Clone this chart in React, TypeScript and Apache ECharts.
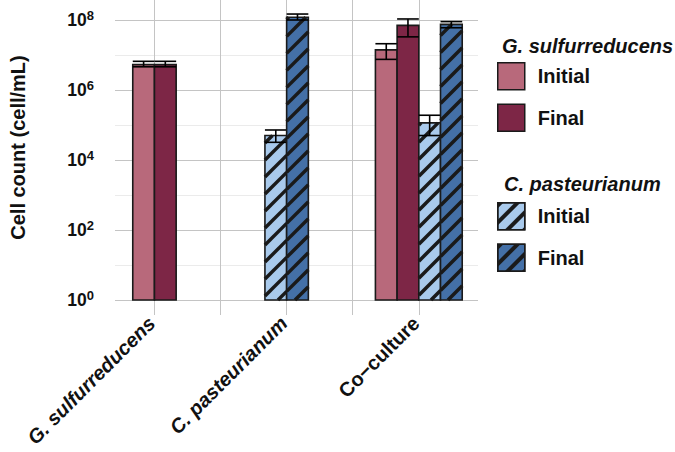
import React, { useEffect, useRef } from 'react';
import * as echarts from 'echarts';

const categories = ['G. sulfurreducens', 'C. pasteurianum', 'Co\u2212culture'];
const italicCategory = [true, true, false];

const seriesNames = [
  'G. sulfurreducens Initial',
  'G. sulfurreducens Final',
  'C. pasteurianum Initial',
  'C. pasteurianum Final',
];
const legendLabels = ['Initial', 'Final', 'Initial', 'Final'];
const legendTitles = ['G. sulfurreducens', 'C. pasteurianum'];

// values per category (null = no bar)
const gInitial = [5.3e6, null, 1.4e7];
const gInitialLow = [4.6e6, null, 7.5e6];
const gInitialHigh = [6.6e6, null, 2.1e7];
const gFinal = [5.3e6, null, 7.0e7];
const gFinalLow = [4.6e6, null, 3.3e7];
const gFinalHigh = [6.6e6, null, 1.07e8];
const cInitial = [null, 5.0e4, 1.15e5];
const cInitialLow = [null, 3.2e4, 5.0e4];
const cInitialHigh = [null, 7.2e4, 1.9e5];
const cFinal = [null, 1.2e8, 7.5e7];
const cFinalLow = [null, 1.0e8, 6.0e7];
const cFinalHigh = [null, 1.48e8, 9.0e7];

const yLabelExponents = [0, 2, 4, 6, 8];

const seriesValues = [gInitial, gFinal, cInitial, cFinal];
const seriesLows = [gInitialLow, gFinalLow, cInitialLow, cFinalLow];
const seriesHighs = [gInitialHigh, gFinalHigh, cInitialHigh, cFinalHigh];

const seriesColors = ['#b8697b', '#7d2646', '#a9caec', '#4470a7'];
const hatched = [false, false, true, true];

const FONT = "'Liberation Sans', Arial, Helvetica, sans-serif";
const TEXT = '#111111';
const INK = '#1a1a1a';
const GRID_MAJOR = '#c4c4c4';
const GRID_MINOR = '#ebebeb';
const BAR_FRAC = 22 / 134;
const HATCH_STEP = 17;

const decal = {
  symbol: 'rect',
  symbolSize: 1,
  dashArrayX: [1, 0],
  dashArrayY: [4, 8],
  rotation: -Math.PI / 4,
  color: INK,
};

const presentIn = categories.map((_, ci) =>
  seriesValues.map((vals, si) => (vals[ci] != null ? si : -1)).filter((si) => si >= 0)
);

function renderBar(params: any, api: any) {
  const si = params.seriesIndex;
  const ci = api.value(0);
  const v = api.value(1);
  const lo = api.value(2);
  const hi = api.value(3);
  const present = presentIn[ci];
  const n = present.length;
  const slot = present.indexOf(si);
  const base = api.coord([ci, 1]);
  const unit = api.coord([ci + 1, 1])[0] - base[0];
  const w = unit * BAR_FRAC;
  const cx = base[0] + (slot - (n - 1) / 2) * w;
  const yTop = api.coord([ci, v])[1];
  const x0 = cx - w / 2;
  const x1 = cx + w / 2;
  const y0 = yTop;
  const y1 = base[1];
  const children: any[] = [];
  children.push({
    type: 'rect',
    shape: { x: x0, y: y0, width: w, height: y1 - y0 },
    style: { fill: seriesColors[si], stroke: 'none' },
  });
  if (hatched[si]) {
    const P = HATCH_STEP;
    const cStart = Math.ceil((x0 + y0) / P) * P;
    for (let c = cStart; c < x1 + y1; c += P) {
      const xa = Math.max(x0, c - y1);
      const xb = Math.min(x1, c - y0);
      if (xb > xa) {
        children.push({
          type: 'line',
          shape: { x1: xa, y1: c - xa, x2: xb, y2: c - xb },
          style: { stroke: INK, lineWidth: 3.5 },
        });
      }
    }
  }
  children.push({
    type: 'rect',
    shape: { x: x0, y: y0, width: w, height: y1 - y0 },
    style: { fill: 'none', stroke: INK, lineWidth: 1.6 },
  });
  const yLo = api.coord([ci, lo])[1];
  const yHi = api.coord([ci, hi])[1];
  const cap = w / 2;
  const errStyle = { stroke: '#000', lineWidth: 1.6 };
  children.push({ type: 'line', shape: { x1: cx, y1: yLo, x2: cx, y2: yHi }, style: errStyle });
  children.push({ type: 'line', shape: { x1: cx - cap, y1: yLo, x2: cx + cap, y2: yLo }, style: errStyle });
  children.push({ type: 'line', shape: { x1: cx - cap, y1: yHi, x2: cx + cap, y2: yHi }, style: errStyle });
  return { type: 'group', children };
}

export default function App() {
  const ref = useRef<HTMLDivElement>(null);
  useEffect(() => {
    document.body.style.margin = '0';
    if (!ref.current) return;
    const chart = echarts.init(ref.current, undefined, { renderer: 'svg' });

    const series = seriesNames.map((name, si) => ({
      type: 'custom',
      name,
      renderItem: renderBar,
      encode: { x: 0, y: [1, 2, 3] },
      itemStyle: { color: seriesColors[si], borderColor: INK, borderWidth: 1.5 },
      data: categories
        .map((_, ci) =>
          seriesValues[si][ci] != null
            ? [ci, seriesValues[si][ci], seriesLows[si][ci], seriesHighs[si][ci]]
            : null
        )
        .filter((d) => d !== null),
      z: 3,
    }));

    const legendItem = (si: number) => ({
      name: seriesNames[si],
      icon: 'rect',
      itemStyle: {
        color: seriesColors[si],
        borderColor: INK,
        borderWidth: 1.5,
        ...(hatched[si] ? { decal } : {}),
      },
    });

    const legendCommon = {
      orient: 'vertical',
      left: 497,
      padding: 0,
      itemWidth: 27,
      itemHeight: 27,
      itemGap: 13,
      selectedMode: false,
      formatter: (name: string) => legendLabels[seriesNames.indexOf(name)],
      textStyle: {
        fontFamily: FONT,
        fontSize: 20,
        fontWeight: 'bold',
        color: TEXT,
        padding: [0, 0, 0, 8],
      },
    };

    const titleStyle = {
      fontFamily: FONT,
      fontSize: 20,
      fontWeight: 'bold',
      fontStyle: 'italic',
      color: TEXT,
    };

    chart.setOption({
      animation: false,
      backgroundColor: '#ffffff',
      title: [
        { text: legendTitles[0], left: 502, top: 36, padding: 0, textStyle: titleStyle },
        { text: legendTitles[1], left: 504, top: 174, padding: 0, textStyle: titleStyle },
      ],
      legend: [
        { ...legendCommon, top: 62, data: [legendItem(0), legendItem(1)] },
        { ...legendCommon, top: 202, data: [legendItem(2), legendItem(3)] },
      ],
      grid: { left: 110, right: 197, top: 0, bottom: 152, containLabel: false },
      xAxis: {
        type: 'value',
        min: -40 / 134,
        max: 2 + 60 / 134,
        axisLine: { show: false },
        axisTick: {
          show: true,
          length: 15,
          customValues: [0, 0.5, 1, 1.5, 2],
          lineStyle: { color: GRID_MAJOR, width: 1 },
        },
        splitLine: { show: true, lineStyle: { color: GRID_MAJOR, width: 1 } },
        axisLabel: {
          customValues: [0, 1, 2],
          rotate: 45,
          margin: 17,
          padding: [0, 4, 0, 0],
          fontFamily: FONT,
          fontSize: 20,
          fontWeight: 'bold',
          color: TEXT,
          formatter: (v: number) => {
            const i = Math.round(v);
            return italicCategory[i] ? `{i|${categories[i]}}` : `{n|${categories[i]}}`;
          },
          rich: {
            i: { fontFamily: FONT, fontSize: 20, fontWeight: 'bold', fontStyle: 'italic', color: TEXT },
            n: { fontFamily: FONT, fontSize: 20, fontWeight: 'bold', color: TEXT },
          },
        },
      },
      yAxis: {
        type: 'log',
        logBase: 10,
        min: 1,
        max: Math.pow(10, 8 + 20 / 35),
        name: 'Cell count (cell/mL)',
        nameLocation: 'middle',
        nameGap: 87,
        nameTextStyle: {
          fontFamily: FONT,
          fontSize: 20,
          fontWeight: 'bold',
          color: TEXT,
          padding: [0, 0, 0, 5],
        },
        axisLine: { show: false },
        axisTick: { show: false },
        splitLine: {
          show: true,
          showMinLine: true,
          showMaxLine: false,
          lineStyle: { color: [GRID_MAJOR, GRID_MINOR], width: 1 },
        },
        axisLabel: {
          margin: 21,
          formatter: (v: number) => {
            const e = Math.log10(v);
            const r = Math.round(e);
            if (Math.abs(e - r) > 1e-6 || yLabelExponents.indexOf(r) < 0) return '';
            return `{b|10}{s|${r}}`;
          },
          rich: {
            b: { fontFamily: FONT, fontSize: 17.5, fontWeight: 'bold', color: TEXT, lineHeight: 23 },
            s: { fontFamily: FONT, fontSize: 13, fontWeight: 'bold', color: TEXT, lineHeight: 13, verticalAlign: 'top' },
          },
        },
      },
      series,
    });
    return () => chart.dispose();
  }, []);
  return <div ref={ref} style={{ width: 675, height: 452 }} />;
}
